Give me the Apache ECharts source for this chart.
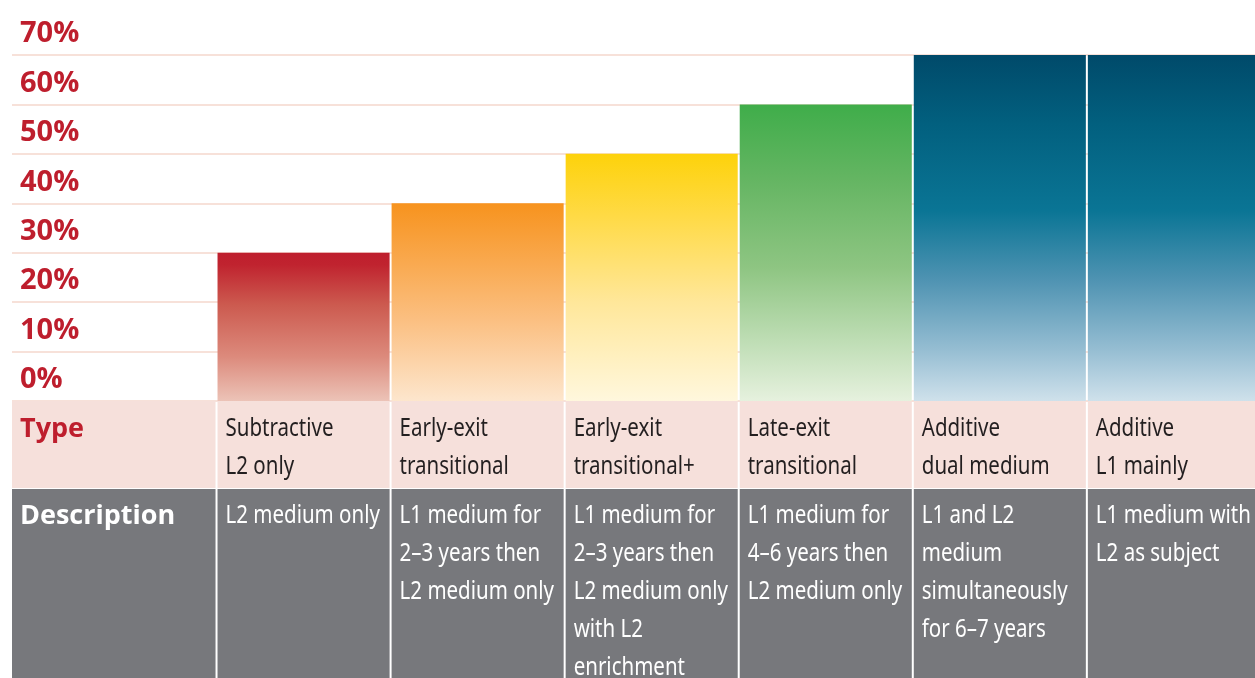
<!DOCTYPE html>
<html>
<head>
<meta charset="utf-8">
<script src="https://cdn.jsdelivr.net/npm/echarts@6/dist/echarts.min.js"></script>
<style>
html,body{margin:0;padding:0;background:#fff;}
#chart{width:1255px;height:678px;}
</style>
</head>
<body>
<div id="chart"></div>
<script>
// ---- data ----
const categories = ['Subtractive\nL2 only', 'Early-exit\ntransitional', 'Early-exit\ntransitional+', 'Late-exit\ntransitional', 'Additive\ndual medium', 'Additive\nL1 mainly'];
const values = [30, 40, 50, 60, 70, 70];
const descriptions = [
  'L2 medium only',
  'L1 medium for\n2–3 years then\nL2 medium only',
  'L1 medium for\n2–3 years then\nL2 medium only\nwith L2\nenrichment',
  'L1 medium for\n4–6 years then\nL2 medium only',
  'L1 and L2\nmedium\nsimultaneously\nfor 6–7 years',
  'L1 medium with\nL2 as subject'
];
const rowHeaders = ['Type', 'Description'];
const tickLabels = ['0%', '10%', '20%', '30%', '40%', '50%', '60%', '70%'];

// ---- styles ----
const barGradients = [
  [['0', '#be1e2d'], ['0.08', '#c0232f'], ['0.35', '#cc5a4f'], ['0.7', '#dc8a7c'], ['1', '#ecc3b7']],
  [['0', '#f7931e'], ['0.3', '#f9a94f'], ['0.6', '#fbc083'], ['1', '#fde6cd']],
  [['0', '#fdd20b'], ['0.25', '#ffda45'], ['0.6', '#ffe79a'], ['1', '#fff7dd']],
  [['0', '#3fad4a'], ['0.25', '#64b562'], ['0.55', '#8ec582'], ['1', '#e6f1de']],
  [['0', '#004a6a'], ['0.2', '#02607f'], ['0.45', '#0a7595'], ['0.65', '#4f93b2'], ['0.85', '#95bdd2'], ['1', '#cfe1eb']],
  [['0', '#004a6a'], ['0.2', '#02607f'], ['0.45', '#0a7595'], ['0.65', '#4f93b2'], ['0.85', '#95bdd2'], ['1', '#cfe1eb']]
];
const xMin = -1.175, xMax = 5.966;
const rowEdges = [0, 87, 277];
const rowFill = ['#f6e0db', '#77787c'];
const headerColor = ['#be1e2d', '#ffffff'];
const cellColor = ['#231f20', '#ffffff'];
const cellFont = '"Noto Sans", "Open Sans", sans-serif';
const headFont = '"Open Sans", "Noto Sans", sans-serif';

function grad(stops) {
  return new echarts.graphic.LinearGradient(0, 0, 0, 1,
    stops.map(s => ({ offset: +s[0], color: s[1] })));
}

const tableData = [];
for (let r = 0; r < rowHeaders.length; r++) {
  tableData.push([-1, r, rowHeaders[r]]);
  for (let c = 0; c < categories.length; c++) {
    tableData.push([c, r, r === 0 ? categories[c] : descriptions[c]]);
  }
}

const chart = echarts.init(document.getElementById('chart'), null, { renderer: 'canvas' });
chart.setOption({
  animation: false,
  backgroundColor: '#ffffff',
  grid: [
    { left: 12, right: 0, top: 55, height: 346, containLabel: false },
    { left: 12, right: 0, top: 401, height: 277, containLabel: false }
  ],
  xAxis: [
    { gridIndex: 0, type: 'value', min: xMin, max: xMax, show: false, splitLine: { show: false } },
    { gridIndex: 1, type: 'value', min: xMin, max: xMax, show: false, splitLine: { show: false } }
  ],
  yAxis: [
    {
      gridIndex: 0, type: 'value', min: 0, max: 70, interval: 10,
      axisLine: { show: false }, axisTick: { show: false },
      splitLine: { show: true, lineStyle: { color: '#f4d7cd', width: 1.5 } },
      axisLabel: {
        inside: true, margin: 8, showMinLabel: true, showMaxLabel: true,
        color: '#be1e2d', fontSize: 29, fontWeight: 'bold', fontFamily: headFont,
        verticalAlign: 'bottom', lineHeight: 42,
        formatter: v => tickLabels[Math.round(v / 10)]
      }
    },
    { gridIndex: 1, type: 'value', min: rowEdges[0], max: rowEdges[rowEdges.length - 1], inverse: true, show: false, splitLine: { show: false } }
  ],
  series: [
    {
      type: 'custom',
      xAxisIndex: 0, yAxisIndex: 0,
      data: values.map((v, i) => [i, v]),
      renderItem: function (params, api) {
        const i = api.value(0), v = api.value(1);
        const p0 = api.coord([i, v]);
        const p1 = api.coord([i + 1, 0]);
        return {
          type: 'rect',
          shape: { x: p0[0] + 1, y: p0[1], width: p1[0] - p0[0] - 2, height: p1[1] - p0[1] },
          style: { fill: grad(barGradients[params.dataIndex]) }
        };
      }
    },
    {
      type: 'custom',
      xAxisIndex: 1, yAxisIndex: 1,
      data: tableData,
      renderItem: function (params, api) {
        const c = api.value(0), r = api.value(1);
        const text = tableData[params.dataIndex][2];
        const isHead = c === -1;
        const p0 = api.coord([isHead ? xMin : c, rowEdges[r]]);
        const p1 = api.coord([c + 1, rowEdges[r + 1]]);
        const x0 = p0[0] + (isHead ? 0 : 1);
        const x1 = p1[0] - 1;
        const y0 = p0[1] + (r === 0 ? 0 : 1);
        const y1 = p1[1];
        return {
          type: 'group',
          children: [
            { type: 'rect', shape: { x: x0, y: y0, width: x1 - x0, height: y1 - y0 }, style: { fill: rowFill[r] } },
            {
              type: 'text', x: x0 + 8, y: y0 + (r === 0 ? 9 : 8),
              scaleX: isHead ? 1 : 0.82,
              style: {
                text: text,
                fill: isHead ? headerColor[r] : cellColor[r],
                fontSize: isHead ? 27 : 25,
                fontWeight: isHead ? 'bold' : 'normal',
                fontFamily: isHead ? headFont : cellFont,
                lineHeight: 38, verticalAlign: 'top', align: 'left'
              }
            }
          ]
        };
      }
    }
  ]
});
</script>
</body>
</html>
